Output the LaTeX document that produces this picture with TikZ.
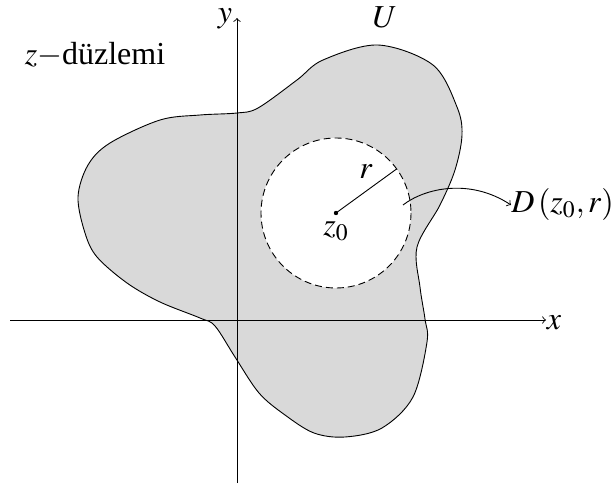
\documentclass[tikz,border=0pt]{standalone}
\usepackage{mathptmx}
\usepackage[no-math]{fontspec}
\setmainfont{Liberation Serif}
\begin{document}
\begin{tikzpicture}[x=0.5pt,y=-0.5pt,
  font=\fontsize{16}{19}\selectfont,
  lbl/.style={inner sep=0pt},
  axis/.style={line width=0.45pt,-to},
  region/.style={fill=black!15,draw=black,line width=0.45pt},
  disk/.style={fill=white,draw=black,line width=0.45pt,dash pattern=on 3.5pt off 2pt},
  thin/.style={line width=0.45pt}]
\useasboundingbox (0,0) rectangle (612,487);
% region U
\path[region] plot[smooth cycle,tension=0.55] coordinates {
 (110,143) (160,120) (200,115) (237,113) (258,108) (297,80) (323,60) (378,45)
 (433,65) (457,107) (462,135) (455,170) (440,205) (417,247) (420,287) (425,319)
 (427,342) (413,397) (382,428) (345,437) (314,433) (285,415) (259,393) (235,357)
 (215,326) (200,318) (160,302) (127,283) (97,257) (85,233) (78,197) (88,165)};
% axes
\coordinate (xs) at (10,320);
\coordinate (xe) at (546,320);
\coordinate (ys) at (237,483);
\coordinate (ye) at (237,18);
\draw[axis] (xs) -- (xe);
\draw[axis] (ys) -- (ye);
\node[lbl] (xl) at (554,323) {$x$};
\node[lbl] (yl) at (225,19) {$y$};
% disk
\coordinate (z0) at (336,213);
\path[disk] (z0) circle[radius=75];
\fill (z0) circle[radius=2.2];
\draw[thin] (z0) -- ++(-36:75) coordinate (rend);
\node[lbl] (rl) at (366,172) {$r$};
\node[lbl] (z0l) at (336,231) {$z_0$};
% labels
\node[lbl] (Ul) at (385,17) {$U$};
\node[lbl] (zl) at (95,55) {$z-$düzlemi};
\node[lbl,anchor=west] (Dl) at (511,205) {$D\left(z_0,r\right)$};
\coordinate (as) at (403,205);
\draw[thin,-to] (as) .. controls (425,188) and (470,178) .. (Dl.west);
\end{tikzpicture}
\end{document}
